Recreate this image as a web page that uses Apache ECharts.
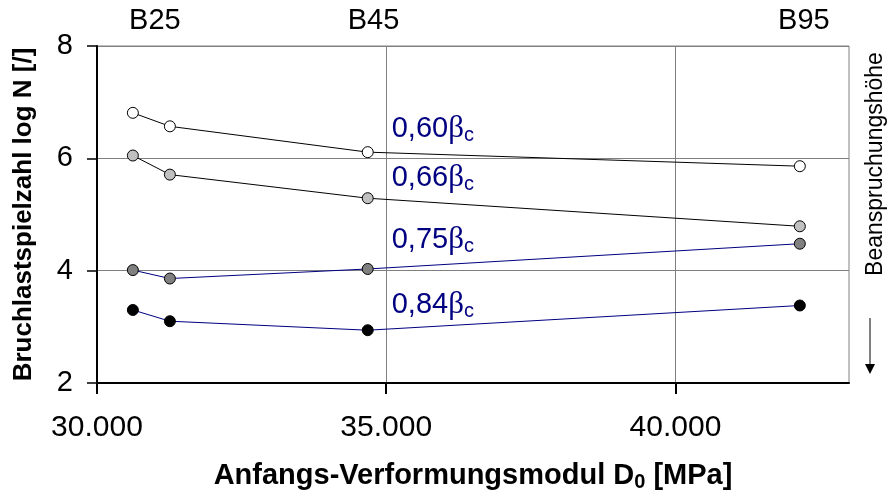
<!DOCTYPE html>
<html>
<head>
<meta charset="utf-8">
<script src="https://cdn.jsdelivr.net/npm/echarts@6/dist/echarts.min.js"></script>
<style>
  html, body { margin: 0; padding: 0; background: #fff; }
  #chart { width: 887px; height: 497px; }
</style>
</head>
<body>
<div id="chart"></div>
<script>
// Initial deformation modulus D0 [MPa] of the tested concretes
const d0Values = [30620, 31260, 34680, 42150];

// log N at failure for each stress level
const logN060 = [6.81, 6.57, 6.11, 5.86];
const logN066 = [6.05, 5.71, 5.29, 4.79];
const logN075 = [4.01, 3.86, 4.03, 4.48];
const logN084 = [3.30, 3.10, 2.94, 3.38];

// Stress level names (fraction of the compressive strength)
const loadLevels = ['0,60', '0,66', '0,75', '0,84'];

// Concrete classes shown along the top edge, at their D0 position
const concreteClasses = ['B25', 'B45', 'B95'];
const classD0 = [31000, 34780, 42220];

// Axis ticks
const xTickValues = [30000, 35000, 40000];
const yMin = 2, yMax = 8, yStep = 2;
const xMin = 30000, xMax = 43000, xStep = 5000;

const NAVY = '#000080';
const FONT = '"Liberation Sans", Arial, sans-serif';

function thousands(v) {
  return String(v).replace(/\B(?=(\d{3})+(?!\d))/g, '.');
}

const seriesStyle = [
  { values: logN060, fill: '#ffffff', line: '#000000', dy: -23 },
  { values: logN066, fill: '#c0c0c0', line: '#000000', dy: -20 },
  { values: logN075, fill: '#808080', line: NAVY,      dy: -29 },
  { values: logN084, fill: '#000000', line: NAVY,      dy: -25 }
];

const labelRich = {
  n: { fontFamily: FONT, fontSize: 29, color: NAVY, lineHeight: 32 },
  b: { fontFamily: '"Liberation Serif", serif', fontSize: 31, color: NAVY, lineHeight: 32 },
  s: { fontFamily: FONT, fontSize: 20, color: NAVY, lineHeight: 32, padding: [13, 0, 0, 0] }
};

const series = seriesStyle.map((s, i) => ({
  type: 'line',
  name: loadLevels[i],
  data: d0Values.map((x, k) => {
    const item = { value: [x, s.values[k]] };
    if (k === 2) {
      item.label = {
        show: true,
        position: 'right',
        distance: 0,
        offset: [18, s.dy],
        formatter: '{n|' + loadLevels[i] + '}{b|β}{s|c}',
        rich: labelRich
      };
    }
    return item;
  }),
  symbol: 'circle',
  symbolSize: 11,
  lineStyle: { color: s.line, width: 1 },
  itemStyle: { color: s.fill, borderColor: '#000000', borderWidth: 1 },
  label: { show: false },
  emphasis: { disabled: true },
  z: 3
}));

const chart = echarts.init(document.getElementById('chart'));
chart.setOption({
  animation: false,
  backgroundColor: '#ffffff',
  grid: {
    left: 97, right: 38, top: 46, bottom: 113,
    show: true, borderColor: '#808080', borderWidth: 1, backgroundColor: 'transparent'
  },
  xAxis: [
    {
      type: 'value',
      min: xMin, max: xMax, interval: xStep,
      position: 'bottom',
      axisLine: { show: true, onZero: false, lineStyle: { color: '#000', width: 2 } },
      axisTick: { show: true, inside: false, length: 11, customValues: xTickValues,
                  lineStyle: { color: '#000', width: 2 } },
      axisLabel: {
        customValues: xTickValues,
        formatter: v => thousands(v),
        fontFamily: FONT, fontSize: 30, color: '#000', margin: 30, lineHeight: 30
      },
      splitLine: { show: true, lineStyle: { color: '#808080', width: 1 } },
      name: 'Anfangs-Verformungsmodul D{sub|0} [MPa]',
      nameLocation: 'middle',
      nameGap: 78,
      nameTextStyle: {
        fontFamily: FONT, fontSize: 29, fontWeight: 'bold', color: '#000', lineHeight: 30,
        rich: {
          sub: { fontFamily: FONT, fontSize: 20, fontWeight: 'bold', color: '#000',
                 lineHeight: 30, padding: [12, 0, 0, 0] }
        }
      }
    },
    {
      type: 'value',
      min: xMin, max: xMax,
      position: 'top',
      axisLine: { show: false },
      axisTick: { show: false },
      splitLine: { show: false },
      axisLabel: {
        customValues: classD0,
        formatter: v => concreteClasses[classD0.indexOf(v)] || '',
        fontFamily: FONT, fontSize: 29, color: '#000', margin: 11, lineHeight: 29
      }
    }
  ],
  yAxis: {
    type: 'value',
    min: yMin, max: yMax, interval: yStep,
    axisLine: { show: true, onZero: false, lineStyle: { color: '#000', width: 2 } },
    axisTick: { show: true, inside: false, length: 10, lineStyle: { color: '#000', width: 1.5 } },
    axisLabel: { fontFamily: FONT, fontSize: 29, color: '#000', margin: 24 },
    splitLine: { show: true, lineStyle: { color: '#808080', width: 1 } },
    name: 'Bruchlastspielzahl log N [/]',
    nameLocation: 'middle',
    nameGap: 60,
    nameTextStyle: { fontFamily: FONT, fontSize: 26, fontWeight: 'bold', color: '#000' }
  },
  graphic: [
    {
      type: 'text',
      x: 876, y: 164,
      rotation: Math.PI / 2,
      style: {
        text: 'Beanspruchungshöhe',
        font: '23px ' + FONT,
        fill: '#000',
        align: 'center',
        verticalAlign: 'middle'
      }
    },
    {
      type: 'line',
      shape: { x1: 870, y1: 318, x2: 870, y2: 366 },
      style: { stroke: '#000', lineWidth: 1 }
    },
    {
      type: 'polygon',
      shape: { points: [[865, 364], [875, 364], [870, 374]] },
      style: { fill: '#000' }
    }
  ],
  series: series
});
</script>
</body>
</html>
